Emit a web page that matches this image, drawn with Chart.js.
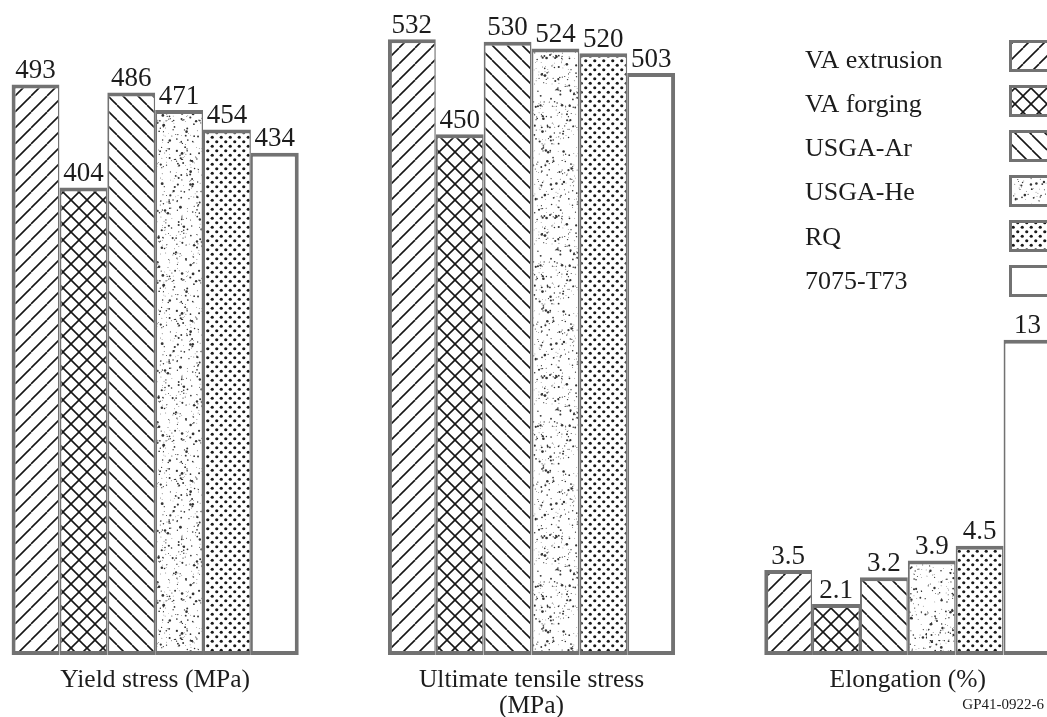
<!DOCTYPE html>
<html>
<head>
<meta charset="utf-8">
<script src="https://cdn.jsdelivr.net/npm/chart.js@4.4.1/dist/chart.umd.min.js"></script>
<style>
  html, body { margin: 0; padding: 0; width: 1047px; height: 717px; overflow: hidden; background: #ffffff; }
  #chart { position: absolute; left: -33px; top: 0; }
</style>
</head>
<body>
<canvas id="chart" width="1129" height="717"></canvas>
<script>
// ---- Data ----
const categoryLabels = [["Yield stress (MPa)"], ["Ultimate tensile stress", "(MPa)"], ["Elongation (%)"]];
const materials = ["VA extrusion", "VA forging", "USGA-Ar", "USGA-He", "RQ", "7075-T73"];
const yieldStress = [493, 404, 486, 471, 454, 434];
const ultimateStress = [532, 450, 530, 524, 520, 503];
const elongation = [3.5, 2.1, 3.2, 3.9, 4.5, 13];
const figureCode = "GP41-0922-6";

// ---- Patterns (styles) ----
function makeTile(size, draw) {
  const c = document.createElement('canvas');
  c.width = size; c.height = size;
  const g = c.getContext('2d');
  g.fillStyle = '#ffffff';
  g.fillRect(0, 0, size, size);
  draw(g, size);
  return g.createPattern(c, 'repeat');
}
function forward(g, s) {
  g.strokeStyle = '#161616'; g.lineWidth = 1.6;
  for (const k of [-s, 0, s]) { g.beginPath(); g.moveTo(k, s); g.lineTo(k + s, 0); g.stroke(); }
}
function backward(g, s) {
  g.strokeStyle = '#161616'; g.lineWidth = 1.6;
  for (const k of [-s, 0, s]) { g.beginPath(); g.moveTo(k, 0); g.lineTo(k + s, s); g.stroke(); }
}
function stipple(g, s) {
  let seed = 987654;
  const rnd = () => { seed = (seed * 1103515245 + 12345) % 2147483648; return seed / 2147483648; };
  g.fillStyle = '#333333';
  for (let i = 0; i < 1300; i++) {
    const x = rnd() * s, y = rnd() * s, r = 0.35 + rnd() * rnd() * 1.2;
    g.beginPath(); g.arc(x, y, r, 0, Math.PI * 2); g.fill();
  }
}
function dots(g, s) {
  g.fillStyle = '#1a1a1a';
  for (const [x, y] of [[s * 0.25, s * 0.25], [s * 0.75, s * 0.75]]) {
    g.beginPath(); g.arc(x, y, 1.6, 0, Math.PI * 2); g.fill();
  }
}
const patterns = [
  makeTile(16, forward),
  makeTile(16, (g, s) => { forward(g, s); backward(g, s); }),
  makeTile(15, backward),
  makeTile(160, stipple),
  makeTile(9, dots),
  '#ffffff'
];

const edgeColor = '#727272';
function borderFor(ctx) {
  const i = ctx.datasetIndex % 6;
  return { top: 4, bottom: 4, left: i === 0 ? 4 : 2, right: i === 5 ? 4 : 1.5 };
}

const datasets = [];
materials.forEach((m, i) => datasets.push({
  label: m, data: [yieldStress[i], ultimateStress[i], null], yAxisID: 'y',
  backgroundColor: patterns[i], borderColor: edgeColor, borderWidth: borderFor, borderSkipped: false
}));
materials.forEach((m, i) => datasets.push({
  label: m, data: [null, null, elongation[i]], yAxisID: 'y2',
  backgroundColor: patterns[i], borderColor: edgeColor, borderWidth: borderFor, borderSkipped: false
}));

const serif = '"Liberation Serif", "DejaVu Serif", serif';
const textColor = '#1c1c1c';

const valueLabels = {
  id: 'valueLabels',
  afterDatasetsDraw(chart) {
    const ctx = chart.ctx;
    ctx.save();
    ctx.font = '27px ' + serif;
    ctx.fillStyle = textColor;
    ctx.textAlign = 'center';
    ctx.textBaseline = 'bottom';
    chart.data.datasets.forEach((ds, di) => {
      const meta = chart.getDatasetMeta(di);
      meta.data.forEach((el, idx) => {
        const v = ds.data[idx];
        if (v === null || v === undefined) return;
        ctx.fillText(String(v), el.x, el.y);
      });
    });
    ctx.restore();
  }
};

const sideLegend = {
  id: 'sideLegend',
  afterDraw(chart) {
    const ctx = chart.ctx;
    const offsetX = 33;
    ctx.save();
    ctx.font = '26px ' + serif;
    ctx.textAlign = 'left';
    ctx.textBaseline = 'middle';
    for (let i = 0; i < 6; i++) {
      const ds = chart.data.datasets[i];
      const ty = 61 + i * 44.2;
      ctx.fillStyle = textColor;
      ctx.fillText(ds.label, 805 + offsetX, ty);
      const bx = 1009 + offsetX, by = 40 + i * 45, bw = 50, bh = 32;
      ctx.fillStyle = edgeColor;
      ctx.fillRect(bx, by, bw, bh);
      ctx.fillStyle = ds.backgroundColor;
      ctx.fillRect(bx + 3, by + 3, bw - 6, bh - 6);
    }
    ctx.font = '15px ' + serif;
    ctx.fillStyle = textColor;
    ctx.textAlign = 'right';
    ctx.fillText(figureCode, 1044 + offsetX, 705);
    ctx.restore();
  }
};

new Chart(document.getElementById('chart'), {
  type: 'bar',
  data: { labels: categoryLabels, datasets },
  options: {
    responsive: false,
    animation: false,
    devicePixelRatio: 1,
    skipNull: true,
    barPercentage: 1.0,
    categoryPercentage: 0.763,
    layout: { padding: 0 },
    plugins: { legend: { display: false }, tooltip: { enabled: false } },
    scales: {
      x: {
        grid: { display: false, drawTicks: false },
        border: { display: false },
        ticks: { font: { family: serif, size: 25.5, lineHeight: 1.04 }, color: textColor, padding: 12, maxRotation: 0, autoSkip: false },
        afterFit(scale) { scale.height = 62; }
      },
      y: { display: false, min: 0, max: 566 },
      y2: { display: false, min: 0, max: 27 }
    }
  },
  plugins: [valueLabels, sideLegend]
});
</script>
</body>
</html>
